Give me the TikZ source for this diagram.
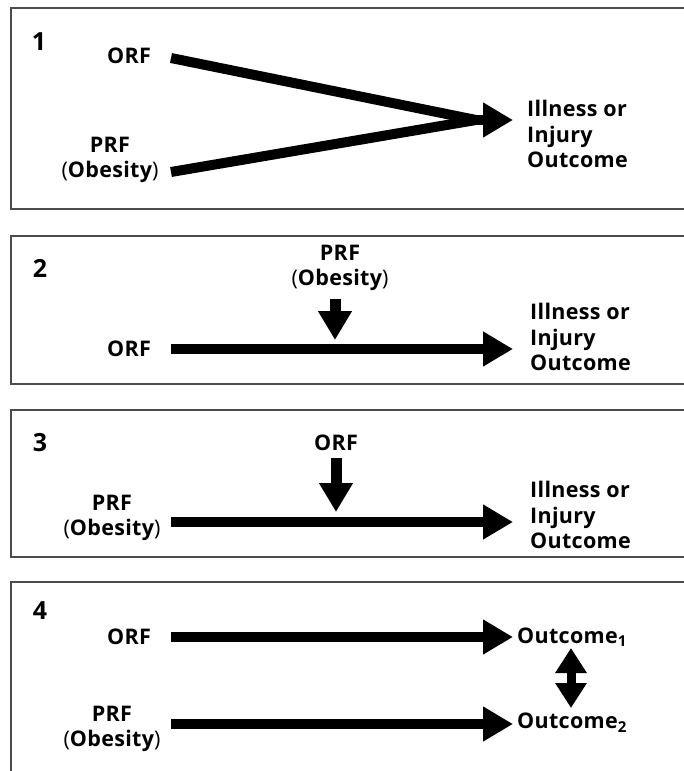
\documentclass[tikz,border=0pt]{standalone}
\usepackage{fontspec}
\setmainfont{Open Sans}[LetterSpace=1.5]
\newfontfamily\parenfont{Open Sans}
\usetikzlibrary{arrows.meta}
\newcommand{\lp}{{\parenfont\mdseries(}}
\newcommand{\rp}{{\parenfont\mdseries)}}
\begin{document}
\begin{tikzpicture}[x=1pt,y=-1pt,
  panel/.style={draw=black!70, line width=1.8pt},
  lbl/.style={font=\bfseries\fontsize{21.5}{25.5}\selectfont, inner sep=0pt, align=center},
  lbll/.style={lbl, align=left, anchor=west},
  num/.style={font=\bfseries\fontsize{25}{28}\selectfont, inner sep=0pt},
  bigarrow/.style={line width=10pt, -{Triangle[length=30pt,width=33pt]}},
  plainline/.style={line width=10pt},
  downarrow/.style={line width=11pt, -{Triangle[length=29pt,width=32pt]}},
  dblarrow/.style={line width=9pt, {Triangle[length=25pt,width=30pt]}-{Triangle[length=25pt,width=30pt]}}]
\useasboundingbox (0,0) rectangle (684,771);
\fill[white] (0,0) rectangle (684,771);
% panels
\draw[panel] (11,8) rectangle (700,209);
\draw[panel] (11,236) rectangle (700,384);
\draw[panel] (11,410) rectangle (700,557);
\draw[panel] (11,582) rectangle (700,800);
% panel 1
\node[num] (n1) at (39,42) {1};
\node[lbl] (orf1) at (129,56) {ORF};
\node[lbl] (prf1) at (110,160) {PRF\\\lp Obesity\rp};
\node[lbll] (out1) at (527,134) {Illness or\\Injury\\Outcome};
\coordinate (a1s) at (171,58);
\coordinate (b1s) at (171,172);
\coordinate (m1) at (476,120);
\coordinate (t1) at (513,120);
\draw[plainline] (a1s) -- (m1);
\draw[plainline] (b1s) -- (m1);
\draw[bigarrow] (m1) -- (t1);
% panel 2
\node[num] (n2) at (40,268) {2};
\node[lbl] (prf2) at (340,268) {PRF\\\lp Obesity\rp};
\node[lbl] (orf2) at (129,349) {ORF};
\node[lbll] (out2) at (530,337) {Illness or\\Injury\\Outcome};
\coordinate (a2s) at (171,349);
\coordinate (t2) at (513,349);
\coordinate (d2s) at (335,299);
\coordinate (d2t) at (335,340);
\draw[bigarrow] (a2s) -- (t2);
\draw[downarrow] (d2s) -- (d2t);
% panel 3
\node[num] (n3) at (40,443) {3};
\node[lbl] (orf3) at (336,443) {ORF};
\node[lbl] (prf3) at (112,518) {PRF\\\lp Obesity\rp};
\node[lbll] (out3) at (530,515) {Illness or\\Injury\\Outcome};
\coordinate (a3s) at (171,522);
\coordinate (t3) at (513,522);
\coordinate (d3s) at (336,458);
\coordinate (d3t) at (336,512);
\draw[bigarrow] (a3s) -- (t3);
\draw[downarrow] (d3s) -- (d3t);
% panel 4
\node[num] (n4) at (40,611) {4};
\node[lbl] (orf4) at (129,637) {ORF};
\node[lbl] (prf4) at (112,729) {PRF\\\lp Obesity\rp};
\node[lbll] (o41) at (517,637) {Outcome\textsubscript{1}};
\node[lbll] (o42) at (517,723) {Outcome\textsubscript{2}};
\coordinate (a4s) at (171,637);
\coordinate (t4) at (513,637);
\coordinate (b4s) at (171,724);
\coordinate (u4) at (513,724);
\coordinate (v1) at (571,648);
\coordinate (v2) at (571,708);
\draw[bigarrow] (a4s) -- (t4);
\draw[bigarrow] (b4s) -- (u4);
\draw[dblarrow] (v1) -- (v2);
\end{tikzpicture}
\end{document}
